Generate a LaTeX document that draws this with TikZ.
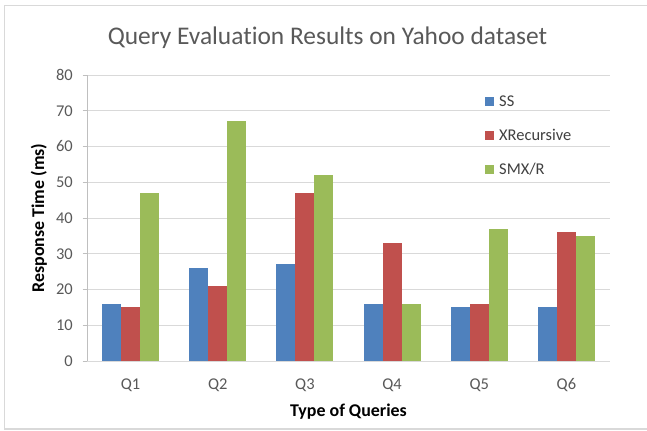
\documentclass[tikz,border=0pt]{standalone}
\usepackage{fontspec}
\setmainfont{Carlito}[Ligatures={NoCommon,NoRare}]
\definecolor{ssblue}{HTML}{4F81BD}
\definecolor{xrred}{HTML}{C0504D}
\definecolor{smxgreen}{HTML}{9BBB59}
\definecolor{gridgray}{HTML}{D9D9D9}
\definecolor{axisgray}{HTML}{BFBFBF}
\definecolor{textgray}{HTML}{595959}
\begin{document}
\begin{tikzpicture}[x=1bp,y=-1bp,
  ticklbl/.style={inner sep=0pt,text=textgray,font=\fontsize{16.5}{19}\selectfont},
  axtitle/.style={inner sep=0pt,text=black,font=\fontsize{18}{21}\selectfont\bfseries},
  legtext/.style={inner sep=0pt,anchor=west,text=black!75,font=\fontsize{16.5}{19}\selectfont},
  legbox/.style={inner sep=0pt,minimum size=9bp,draw=none},
  gridline/.style={draw=gridgray,line width=0.9bp},
  barstyle/.style={line width=0pt}]
\useasboundingbox (0,0) rectangle (647,430);
\fill[white] (0,0) rectangle (647,430);
% outer frame
\draw[gridgray,line width=1.2bp] (647,5.5) -- (4.5,5.5) -- (4.5,429) -- (647,429);
% title
\node[inner sep=0pt,anchor=base,text=textgray,font=\fontsize{25.5}{30}\selectfont] (title) at (327.5,44) {Query Evaluation Results on Yahoo dataset};
% grid and y ticks
\foreach \v in {10,20,...,80}{
  \draw[gridline] (87,{361-3.575*\v}) -- (610,{361-3.575*\v});
}
\foreach \v in {0,10,...,80}{
  \draw[axisgray,line width=0.9bp] (82.5,{361-3.575*\v}) -- (87,{361-3.575*\v});
  \node[ticklbl,anchor=east] (yt\v) at (73,{361-3.575*\v}) {\v};
}
% bars
\foreach \c [count=\i] in {16/15/47,26/21/67,27/47/52,16/33/16,15/16/37,15/36/35}{
  \pgfmathsetmacro{\cx}{87+87.17*(\i-0.5)}
  \foreach \a/\b/\d in \c {
    \fill[ssblue]   ({\cx-28.5},361) rectangle ({\cx-9.5},{361-3.575*\a});
    \fill[xrred]    ({\cx-9.5},361)  rectangle ({\cx+9.5},{361-3.575*\b});
    \fill[smxgreen] ({\cx+9.5},361)  rectangle ({\cx+28.5},{361-3.575*\d});
  }
  \node[ticklbl,anchor=base] (q\i) at (\cx,389) {Q\i};
}
% axes
\draw[gridgray,line width=1bp] (87,361) -- (610,361);
\draw[axisgray,line width=0.9bp] (87,75) -- (87,361);
% axis titles
\node[axtitle,anchor=base] (xtitle) at (348.5,416) {Type of Queries};
\node[axtitle,rotate=90] (ytitle) at (39,218) {Response Time (ms)};
% legend
\node[legbox,fill=ssblue] (lb1) at (489.5,101) {};
\node[legtext] (lt1) at (499,101) {SS};
\node[legbox,fill=xrred] (lb2) at (489.5,135) {};
\node[legtext] (lt2) at (499,135) {XRecursive};
\node[legbox,fill=smxgreen] (lb3) at (489.5,169) {};
\node[legtext] (lt3) at (499,169) {SMX/R};
\end{tikzpicture}
\end{document}
